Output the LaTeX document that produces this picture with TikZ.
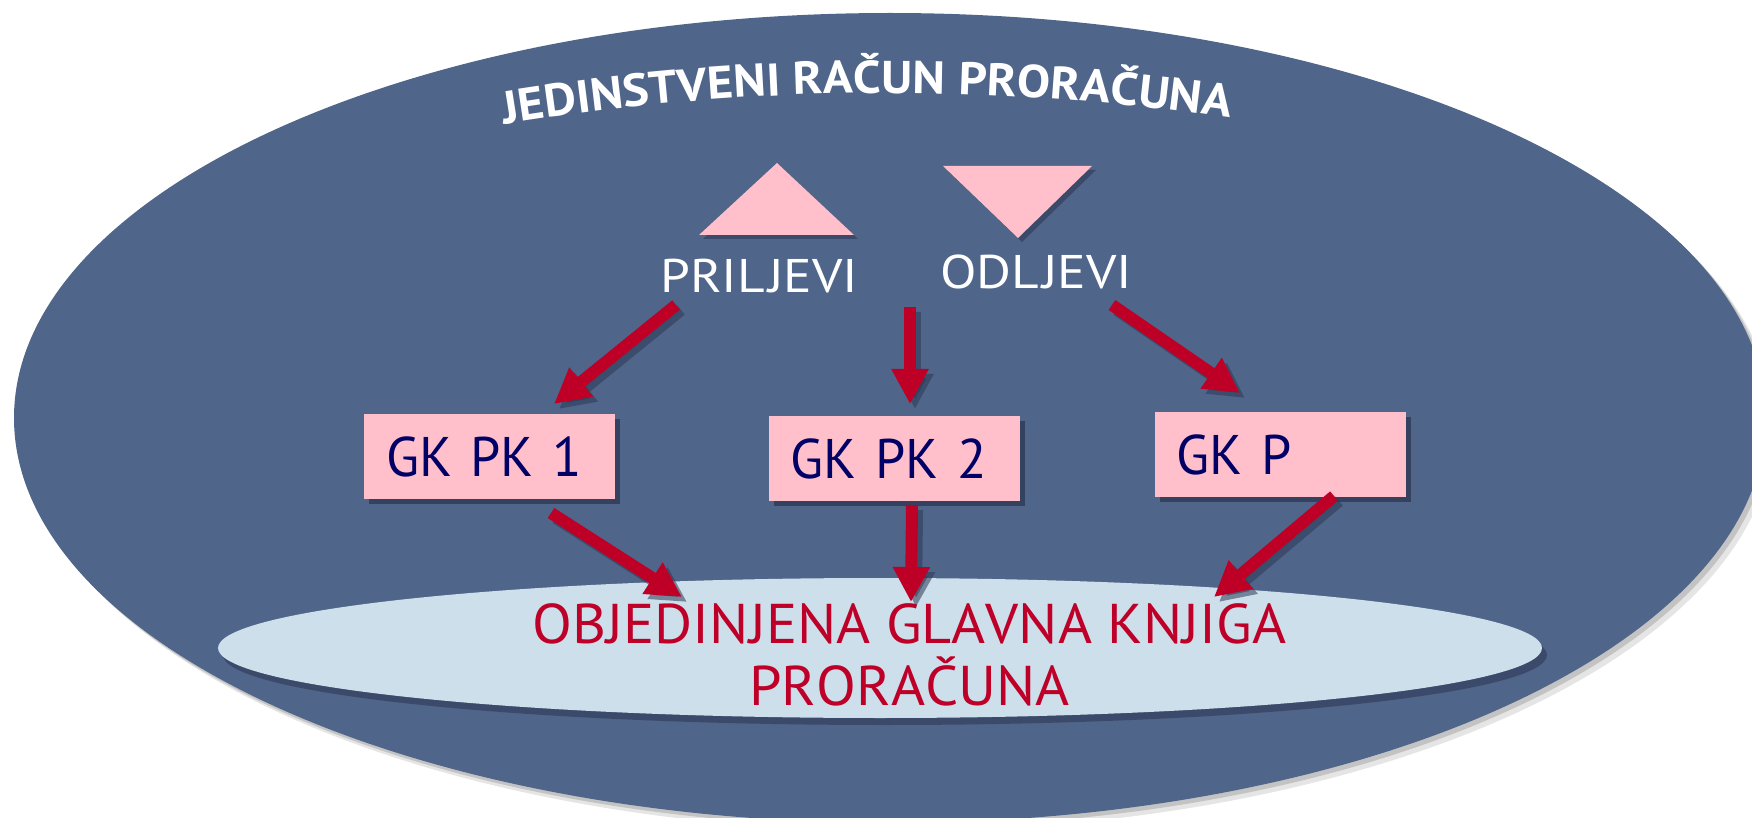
\documentclass[tikz,border=0pt]{standalone}
\usepackage{fontspec}
\setmainfont{PT Sans}[RawFeature={-liga;-clig}]
\newfontfamily\ttlfam{PT Sans}[FakeStretch=1.08, RawFeature={-liga;-clig}]
\newfontfamily\lblfam{PT Sans}[FakeStretch=1.13, Kerning=Off, RawFeature={-liga;-clig}]
\newfontfamily\boxfam{PT Sans}[FakeStretch=0.97, RawFeature={-liga;-clig}]
\newfontfamily\oglfam{PT Sans}[FakeStretch=1.04, Kerning=Off, RawFeature={-liga;-clig}]
\usetikzlibrary{arrows.meta,decorations.text,shadows,shapes.geometric}
\definecolor{bigblue}{RGB}{80,101,138}
\definecolor{lightblue}{RGB}{205,223,235}
\definecolor{boxpink}{RGB}{255,192,203}
\definecolor{arrowred}{RGB}{190,0,38}
\definecolor{textred}{RGB}{190,0,40}
\definecolor{navytext}{RGB}{0,0,102}
\definecolor{boxshadow}{RGB}{45,57,85}
\newcommand{\ttlfont}{\ttlfam\fontsize{23pt}{26pt}\selectfont\bfseries}
\tikzset{
  lbl/.style={inner sep=0pt, anchor=base west, text=white, font=\lblfam\fontsize{23.6pt}{26pt}\selectfont},
  gkbox/.style={fill=boxpink, minimum height=42.5pt, text width=103.5pt, inner xsep=11pt, inner ysep=0pt,
    align=left, text=navytext, font=\boxfam\fontsize{27.9pt}{30pt}\selectfont,
    drop shadow={shadow xshift=2.5pt, shadow yshift=-2.5pt, fill=boxshadow, opacity=0.8}},
  redarrow/.style={draw=arrowred, line width=6pt, -{Triangle[length=17.5pt,width=17.5pt]}},
  arrowsh/.style={draw=boxshadow, fill=boxshadow, opacity=0.55, line width=6pt, -{Triangle[length=17.5pt,width=17.5pt]},
    transform canvas={shift={(2.5pt,-2.5pt)}}},
  ogltext/.style={inner sep=0pt, anchor=base, text=textred, font=\oglfam\fontsize{28pt}{30pt}\selectfont},
  tri/.style={fill=boxpink},
  trish/.style={fill=boxshadow, opacity=0.6},
}
\begin{document}
\begin{tikzpicture}[x=0.5pt,y=-0.5pt]
\useasboundingbox (0,0) rectangle (1752,818);
% big ellipse with soft shadow
\fill[black,opacity=0.10] (898,426) ellipse [x radius=876, y radius=405];
\fill[black,opacity=0.15] (894,422) ellipse [x radius=876, y radius=405];
\fill[bigblue] (890,418) ellipse [x radius=876, y radius=405];
% title along arc
\path[decorate,
  decoration={text along path, text color=white, text align=center,
  text={|\ttlfont|JEDINSTVENI RAČUN PRORAČUNA}}]
  (505,124) .. controls (746,85) and (988,83) .. (1229,118);
% triangles
\fill[trish] (781,167) -- (858,239) -- (703,239) -- cycle;
\fill[tri] (777,163) -- (854,235) -- (699,235) -- cycle;
\fill[trish] (947,170) -- (1096,170) -- (1022,242) -- cycle;
\fill[tri] (943,166) -- (1092,166) -- (1018,238) -- cycle;
% labels
\node[lbl] (pril) at (660,293) {PRIL\kern1.5pt JEVI};
\node[lbl] (odl) at (940,289) {ODL\kern1.5pt JEVI};
% boxes
\node[gkbox] (gk1) at (489.5,456.5) {GK PK 1};
\node[gkbox] (gk2) at (894,458.5) {GK PK 2};
\node[gkbox] (gk3) at (1280,454.5) {GK P};
% light ellipse
\fill[boxshadow,opacity=0.6] (885,655) ellipse [x radius=662, y radius=70];
\node[ellipse, fill=lightblue, minimum width=662pt, minimum height=70pt, inner sep=0pt] (ogl) at (880,648) {};
\node[ogltext] (ogl1) at (909.5,643) {OBJEDINJENA GLAVNA KNJIGA};
\node[ogltext] (ogl2) at (909.5,705) {PRORAČUNA};
% arrow end points
\coordinate (a1s) at (676,305); \coordinate (a1e) at (554,404);
\coordinate (a2s) at (910,307); \coordinate (a2e) at (910,404);
\coordinate (a3s) at (1112,305); \coordinate (a3e) at (1240,393);
\coordinate (a4s) at (551,513); \coordinate (a4e) at (682,597);
\coordinate (a5s) at (912,505); \coordinate (a5e) at (911,602);
\coordinate (a6s) at (1334,496); \coordinate (a6e) at (1214,597);
% arrow shadows
\foreach \i in {1,...,6}{\draw[arrowsh] (a\i s) -- (a\i e);}
% arrows
\foreach \i in {1,...,6}{\draw[redarrow] (a\i s) -- (a\i e);}
\end{tikzpicture}
\end{document}
